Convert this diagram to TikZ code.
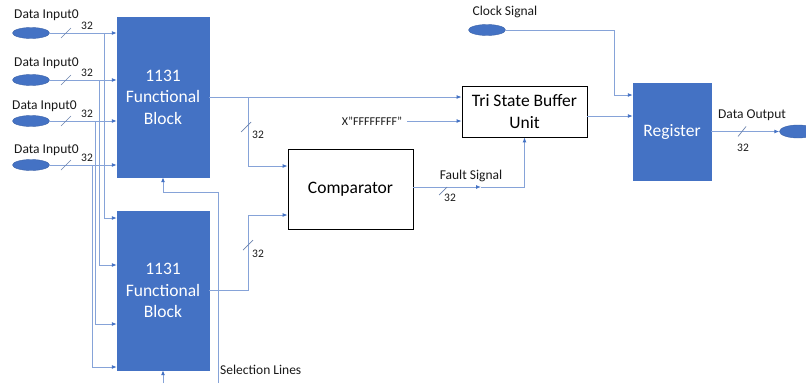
\documentclass[tikz,border=0pt]{standalone}
\usepackage{fontspec}
\setmainfont{Carlito}
\usetikzlibrary{arrows.meta,calc,shapes.geometric}
\definecolor{blk}{HTML}{4472C4}
\definecolor{wire}{HTML}{86A3D8}
\definecolor{tip}{HTML}{4472C4}
\begin{document}
\begin{tikzpicture}[x=1pt,y=-1pt,
 conn/.style={draw=wire,line width=0.9pt},
 arr/.style={conn,-{Latex[length=5pt,width=4pt,color=tip]}},
 bluebox/.style={rectangle,fill=blk,draw=blk,text=white,align=center,font=\fontsize{17.5}{21.5}\selectfont,inner sep=0},
 whitebox/.style={rectangle,draw=black,line width=0.8pt,fill=white,align=center,font=\fontsize{17.5}{22}\selectfont,inner sep=0},
 port/.style={ellipse,fill=blk,draw=blk!85!black,minimum width=37pt,minimum height=11pt,inner sep=0},
 lbl/.style={font=\fontsize{13.5}{15}\selectfont,text=black!90,inner sep=0},
 bw/.style={font=\fontsize{11.5}{13}\selectfont,text=black!90,inner sep=0},
 slash/.style={draw=wire!80!black,line width=0.7pt}
]
\useasboundingbox (0,0) rectangle (806,383);
\clip (0,0) rectangle (806,383);

% blocks
\node[bluebox,minimum width=92pt,minimum height=160pt] (b1) at (163,97) {1131\\Functional\\Block};
\node[bluebox,minimum width=92pt,minimum height=159pt] (b2) at (163,290.5) {1131\\Functional\\Block};
\node[whitebox,minimum width=125pt,minimum height=80pt] (cmp) at (350.5,189) {Comparator};
\node[whitebox,minimum width=125pt,minimum height=51pt] (tsb) at (524.5,111.5) {Tri State Buffer\\Unit};
\node[bluebox,minimum width=78pt,minimum height=97pt] (reg) at (672,131.5) {Register};

% input ports
\foreach \i/\y in {1/33,2/80,3/121,4/165}{
  \node[port] (in\i) at (31,\y) {};
}
\node[lbl,anchor=west] (l1) at (14,15) {Data Input0};
\node[lbl,anchor=west] (l2) at (14,63) {Data Input0};
\node[lbl,anchor=west] (l3) at (12,106) {Data Input0};
\node[lbl,anchor=west] (l4) at (14,150) {Data Input0};

\foreach \i in {1,...,4}{
  \draw[arr] (in\i.east) -- (in\i.east -| b1.west);
}
\foreach \i/\y in {1/33,2/80,3/121,4/165}{
  \coordinate (s\i) at (66,\y);
  \draw[slash] (s\i) ++(-5,5) -- ++(10,-10);
  \node[bw] (w\i) at (87,\y-7) {32};
}

% branches to block 2
\coordinate (k1) at (104,218);
\coordinate (k2) at (99,265);
\coordinate (k3) at (95,324);
\coordinate (k4) at (92,367);
\foreach \i in {1,...,4}{
  \draw[arr] (in\i.east -| k\i) -- (k\i) -- (k\i -| b2.west);
}

% selection lines
\coordinate (selb) at (218,383);
\coordinate (selt) at (218,192);
\coordinate (selb2) at (163,383);
\draw[arr] (selb) -- (selt) -| (b1.south);
\draw[arr] (selb2) -- (b2.south);
\node[lbl,anchor=west] (sel) at (220,370) {Selection Lines};

% block1 output
\draw[arr] (b1.east) -- (b1.east -| tsb.west);
\coordinate (br1) at (248,97);
\coordinate (c1) at (248,166);
\draw[arr] (br1) -- (c1) -- (c1 -| cmp.west);
\coordinate (sl5) at (246,127);
\draw[slash] (sl5) ++(-5,5) -- ++(10,-10);
\node[bw] (w5) at (258,135) {32};

% block2 output
\coordinate (c2) at (248,215);
\draw[arr] (b2.east) -| (c2) -- (c2 -| cmp.west);
\coordinate (sl6) at (248,245);
\draw[slash] (sl6) ++(-5,5) -- ++(10,-10);
\node[bw] (w6) at (258,254) {32};

% constant
\node[font=\fontsize{12}{14}\selectfont,text=black!90,inner sep=0] (xf) at (372,121) {X"FFFFFFFF”};
\draw[arr] ($(xf.east)+(5,0)$) -- (xf.east -| tsb.west);

% fault signal
\coordinate (fmid) at (481,187);
\coordinate (f0) at (413,187);
\draw[arr] (f0) -- (fmid);
\draw[arr] (fmid) -| (tsb.south);
\node[lbl] (fs) at (471,176) {Fault Signal};
\coordinate (sl7) at (443,191);
\draw[slash] (sl7) ++(-4,4) -- ++(8,-8);
\node[bw] (w7) at (450,198) {32};

% clock
\node[port] (clk) at (487,30) {};
\node[lbl] (clkl) at (505,12) {Clock Signal};
\coordinate (ck) at (614,95);
\draw[arr] (clk.east) -| (ck) -- (ck -| reg.west);

% tsb -> register
\coordinate (t3) at ($(tsb.east)+(0,4.5)$);
\draw[arr] (t3) -- (t3 -| reg.west);

% output
\node[port,minimum height=13pt] (out) at (798,131.5) {};
\draw[arr] (reg.east) -- (out.west);
\coordinate (sl8) at (742,131.5);
\draw[slash] (sl8) ++(-4,5) -- ++(8,-10);
\node[bw] (w8) at (743,148) {32};
\node[lbl] (dol) at (752,115) {Data Output};
\end{tikzpicture}
\end{document}
